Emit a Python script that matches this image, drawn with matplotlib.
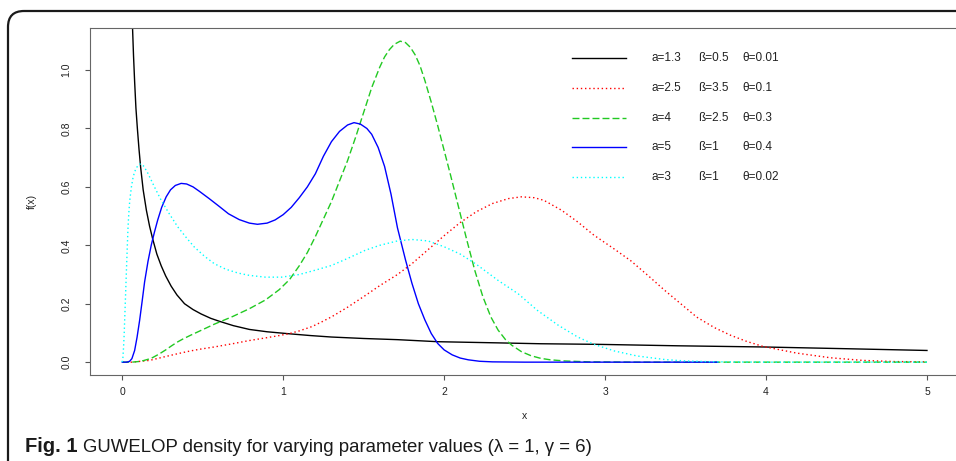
import numpy as np
import matplotlib
matplotlib.use("Agg")
import matplotlib.pyplot as plt
from matplotlib.patches import FancyBboxPatch
from matplotlib.transforms import IdentityTransform

# curves
x_black = [0.055, 0.063, 0.070, 0.077, 0.085, 0.094, 0.104, 0.114, 0.13, 0.15, 0.17, 0.19, 0.215,
           0.242, 0.27, 0.304, 0.34, 0.387, 0.44, 0.49, 0.55, 0.603, 0.69, 0.79, 0.90, 1.04, 1.17,
           1.30, 1.50, 1.71, 1.96, 2.335, 2.6, 2.95, 3.45, 3.98, 4.5, 5.0]
y_black = [1.32, 1.16, 1.05, 0.96, 0.87, 0.80, 0.73, 0.669, 0.59, 0.52, 0.465, 0.42, 0.37,
           0.33, 0.295, 0.26, 0.23, 0.20, 0.18, 0.165, 0.15, 0.14, 0.125, 0.112, 0.104, 0.097, 0.091,
           0.086, 0.081, 0.077, 0.070, 0.066, 0.063, 0.061, 0.056, 0.052, 0.046, 0.040]

x_red = [0.0, 0.06, 0.17, 0.26, 0.345, 0.42, 0.479, 0.572, 0.685, 0.79, 0.89, 0.975, 1.04, 1.10,
         1.18, 1.24, 1.30, 1.40, 1.51, 1.60, 1.71, 1.80, 1.90, 2.00, 2.10, 2.20, 2.30, 2.40, 2.48,
         2.56, 2.62, 2.73, 2.83, 2.93, 3.05, 3.16, 3.27, 3.37, 3.47, 3.57, 3.68, 3.78, 3.88, 3.98,
         4.19, 4.40, 4.60, 4.80, 5.0]
y_red = [0.0, 0.0, 0.006, 0.018, 0.029, 0.038, 0.044, 0.052, 0.063, 0.074, 0.083, 0.091, 0.098,
         0.107, 0.122, 0.138, 0.155, 0.188, 0.228, 0.262, 0.30, 0.337, 0.385, 0.433, 0.478, 0.515,
         0.543, 0.56, 0.566, 0.563, 0.554, 0.52, 0.48, 0.435, 0.39, 0.347, 0.295, 0.246, 0.20,
         0.154, 0.118, 0.092, 0.071, 0.054, 0.031, 0.015, 0.006, 0.002, 0.001]

x_green = [0.0, 0.06, 0.10, 0.13, 0.18, 0.23, 0.273, 0.304, 0.34, 0.376, 0.428, 0.479, 0.572,
           0.685, 0.79, 0.89, 0.975, 1.04, 1.10, 1.15, 1.20, 1.25, 1.30, 1.35, 1.40, 1.45, 1.50,
           1.55, 1.60, 1.63, 1.66, 1.69, 1.727, 1.76, 1.79, 1.82, 1.85, 1.88, 1.92, 1.96, 2.00,
           2.04, 2.09, 2.14, 2.19, 2.24, 2.29, 2.335, 2.38, 2.42, 2.48, 2.54, 2.60, 2.66, 2.75,
           2.90, 3.20, 4.0, 5.0]
y_green = [0.0, 0.0, 0.002, 0.005, 0.013, 0.028, 0.043, 0.055, 0.068, 0.079, 0.093, 0.106, 0.13,
           0.156, 0.183, 0.213, 0.248, 0.283, 0.33, 0.375, 0.43, 0.49, 0.55, 0.62, 0.69, 0.77, 0.855,
           0.94, 1.01, 1.045, 1.07, 1.088, 1.099, 1.094, 1.078, 1.052, 1.015, 0.965, 0.89, 0.81,
           0.725, 0.64, 0.53, 0.42, 0.315, 0.225, 0.155, 0.11, 0.078, 0.058, 0.036, 0.022, 0.013,
           0.008, 0.004, 0.001, 0.0, 0.0, 0.0]

x_blue = [0.0, 0.03, 0.046, 0.06, 0.077, 0.092, 0.108, 0.124, 0.139, 0.16, 0.18, 0.20, 0.22,
          0.245, 0.273, 0.30, 0.33, 0.366, 0.40, 0.44, 0.479, 0.54, 0.603, 0.66, 0.727, 0.79,
          0.84, 0.90, 0.95, 1.00, 1.05, 1.10, 1.15, 1.20, 1.25, 1.30, 1.35, 1.40, 1.44, 1.48,
          1.52, 1.55, 1.59, 1.63, 1.67, 1.71, 1.76, 1.80, 1.84, 1.88, 1.92, 1.96, 2.00, 2.05,
          2.10, 2.15, 2.22, 2.30, 2.50, 3.0, 3.7]
y_blue = [0.0, 0.0, 0.003, 0.012, 0.04, 0.085, 0.143, 0.21, 0.275, 0.345, 0.40, 0.445, 0.486,
          0.53, 0.566, 0.59, 0.605, 0.612, 0.61, 0.60, 0.585, 0.56, 0.533, 0.508, 0.488, 0.476,
          0.472, 0.476, 0.487, 0.505, 0.53, 0.563, 0.60, 0.645, 0.705, 0.755, 0.79, 0.812, 0.82,
          0.815, 0.80, 0.78, 0.735, 0.67, 0.575, 0.46, 0.35, 0.27, 0.20, 0.145, 0.098, 0.064,
          0.042, 0.025, 0.014, 0.008, 0.003, 0.001, 0.0, 0.0, 0.0]

x_cyan = [0.0, 0.004, 0.008, 0.012, 0.015, 0.02, 0.026, 0.031, 0.036, 0.042, 0.047, 0.057,
          0.067, 0.077, 0.09, 0.108, 0.12, 0.135, 0.16, 0.20, 0.242, 0.29, 0.345, 0.40, 0.448,
          0.51, 0.572, 0.644, 0.72, 0.79, 0.89, 0.99, 1.10, 1.20, 1.30, 1.40, 1.51, 1.60, 1.71,
          1.80, 1.90, 2.00, 2.10, 2.20, 2.335, 2.46, 2.58, 2.71, 2.83, 2.93, 3.06, 3.20, 3.37,
          3.50, 3.70, 4.0, 5.0]
y_cyan = [0.0, 0.015, 0.05, 0.095, 0.143, 0.22, 0.314, 0.39, 0.463, 0.52, 0.555, 0.60,
          0.632, 0.652, 0.667, 0.678, 0.678, 0.67, 0.646, 0.60, 0.554, 0.51, 0.463, 0.425, 0.394,
          0.363, 0.337, 0.318, 0.305, 0.297, 0.291, 0.291, 0.30, 0.315, 0.331, 0.355, 0.383,
          0.40, 0.415, 0.42, 0.415, 0.395, 0.37, 0.335, 0.28, 0.234, 0.177, 0.126, 0.086, 0.061,
          0.038, 0.021, 0.009, 0.004, 0.001, 0.0, 0.0]

labels_a = ["a=1.3", "a=2.5", "a=4", "a=5", "a=3"]
labels_b = ["ß=0.5", "ß=3.5", "ß=2.5", "ß=1", "ß=1"]
labels_t = ["θ=0.01", "θ=0.1", "θ=0.3", "θ=0.4", "θ=0.02"]

x_ticks = [0, 1, 2, 3, 4, 5]
y_ticks = [0.0, 0.2, 0.4, 0.6, 0.8, 1.0]

plt.rcParams['font.family'] = ['Liberation Sans', 'DejaVu Sans']

fig = plt.figure(figsize=(9.56, 4.61), dpi=100)
ax = fig.add_axes([0.0942, 0.18655, 0.9091, 0.7527])

series = [
    (x_black, y_black, 'black', '-'),
    (x_red, y_red, 'red', (0, (1, 2))),
    (x_green, y_green, '#22c922', (0, (5, 2.2))),
    (x_blue, y_blue, 'blue', '-'),
    (x_cyan, y_cyan, 'cyan', (0, (1, 2))),
]
for xs, ys, col, ls in series:
    ax.plot(xs, ys, color=col, linestyle=ls, lw=1.0)

ax.set_xlim(-0.2, 5.2)
ax.set_ylim(-0.044, 1.144)
ax.set_xticks(x_ticks)
ax.set_yticks(y_ticks)
ax.set_xticklabels([str(v) for v in x_ticks])
ax.set_yticklabels(["%.1f" % v for v in y_ticks], rotation=90, va='center')
ax.tick_params(axis='both', direction='out', length=3.6, width=0.8, color='#555555',
               labelsize=7.5, labelcolor='#222222')
ax.tick_params(axis='x', pad=5.0)
ax.tick_params(axis='y', pad=10)
for s in ax.spines.values():
    s.set_color('#666666')
    s.set_linewidth(0.8)

ax.set_xlabel("x", fontsize=7.5, color='#222222')
ax.set_ylabel("f(x)", fontsize=7.5, color='#222222')
ax.xaxis.set_label_coords(0.5, -0.105)
ax.yaxis.set_label_coords(-0.061, 0.5)

# legend drawn by hand, no box (R bty="n")
leg_rows = [0.9144, 0.828, 0.741, 0.656, 0.570]
for i, (xs, ys, col, ls) in enumerate(series):
    yy = leg_rows[i]
    ax.plot([0.5546, 0.6167], [yy, yy], transform=ax.transAxes, color=col, linestyle=ls, lw=1.0)
    ax.text(0.6462, yy, labels_a[i], transform=ax.transAxes, va='center', ha='left',
            fontsize=8.5, color='#222222')
    ax.text(0.700, yy, labels_b[i], transform=ax.transAxes, va='center', ha='left',
            fontsize=8.5, color='#222222')
    ax.text(0.750, yy, labels_t[i], transform=ax.transAxes, va='center', ha='left',
            fontsize=8.5, color='#222222')

# rounded frame around the figure, cut off right and bottom
frame = FancyBboxPatch((8, -30), 1040, 461 - 11 + 30, boxstyle="round,pad=0,rounding_size=16",
                       transform=IdentityTransform(), fill=False, edgecolor='#1a1a1a', lw=1.6)
fig.patches.append(frame)

fig.text(25 / 956, 9 / 461, "Fig. 1", fontsize=14.5, fontweight='bold', va='baseline',
         ha='left', color='#1a1a1a')
fig.text(83 / 956, 9 / 461, "GUWELOP density for varying parameter values (λ = 1, γ = 6)",
         fontsize=13.4, va='baseline', ha='left', color='#1a1a1a')

fig.savefig("out.png", dpi=100)
